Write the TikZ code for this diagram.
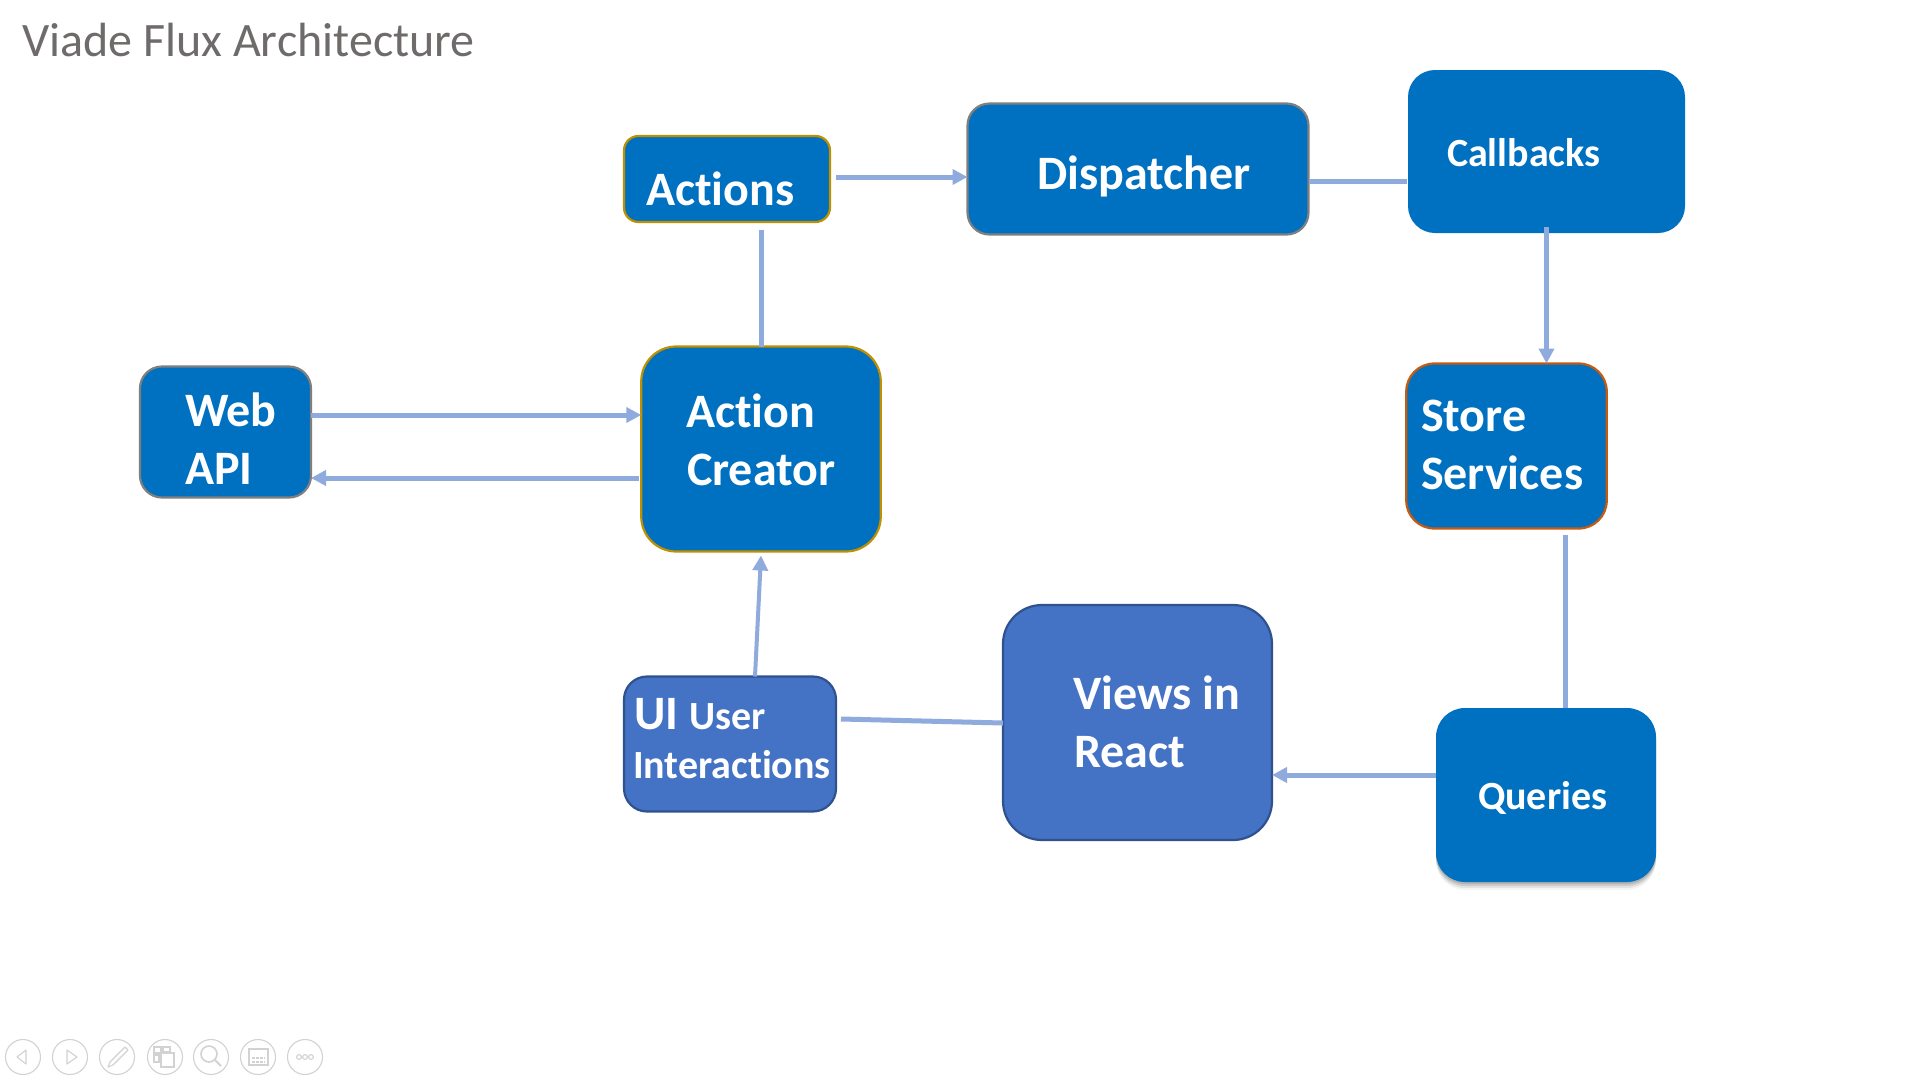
\documentclass[tikz,border=0pt]{standalone}
\usepackage{fontspec}
\setmainfont{Carlito}[Ligatures=CommonOff]
\usetikzlibrary{arrows.meta,shadows,calc}
\definecolor{bluefill}{HTML}{0070C0}
\definecolor{viewfill}{HTML}{4472C4}
\definecolor{viewline}{HTML}{2F528F}
\definecolor{goldline}{HTML}{BF9000}
\definecolor{greyline}{HTML}{7F7F7F}
\definecolor{rustline}{HTML}{C55A11}
\definecolor{connc}{HTML}{8FAADC}
\definecolor{titlec}{HTML}{6F6B6B}
\definecolor{toolc}{HTML}{D2D2D2}
\tikzset{
  bx/.style={shape=rectangle,outer sep=0pt,inner sep=0pt,fill=bluefill,line width=2.2pt},
  lbl/.style={anchor=base west,inner sep=0pt,outer sep=0pt,text=white,font=\bfseries\fontsize{48}{58}\selectfont},
  lblsm/.style={anchor=base west,inner sep=0pt,outer sep=0pt,text=white,font=\bfseries\fontsize{40}{48}\selectfont},
  line/.style={draw=connc,line width=5pt},
  arrow/.style={line,-{Triangle[length=15pt,width=15pt]}},
  tool/.style={draw=toolc,line width=1.1pt},
  toolc/.style={tool,shape=circle,minimum size=35pt,inner sep=0pt,outer sep=0pt},
  softshadow/.style={
    drop shadow={shadow xshift=0pt,shadow yshift=-2pt,opacity=.12,fill=black},
    drop shadow={shadow xshift=0pt,shadow yshift=-4pt,opacity=.10,fill=black},
    drop shadow={shadow xshift=0pt,shadow yshift=-6pt,opacity=.07,fill=black},
    drop shadow={shadow xshift=0pt,shadow yshift=-8pt,opacity=.04,fill=black}},
}
\begin{document}
\begin{tikzpicture}[x=1pt,y=-1pt]
\useasboundingbox (0,0) rectangle (1920,1080);
\fill[white] (0,0) rectangle (1920,1080);
\node[anchor=base west,inner sep=0pt,text=titlec,font=\fontsize{48}{54}\selectfont] (title) at (22,56) {Viade Flux Architecture};
% boxes
\node[bx,draw=goldline,minimum width=206pt,minimum height=86pt,rounded corners=14.5pt] (actions) at (727,179) {};
\node[bx,draw=greyline,minimum width=341pt,minimum height=131pt,rounded corners=22pt] (dispatcher) at (1138,169) {};
\node[bx,minimum width=277pt,minimum height=163pt,rounded corners=27pt] (callbacks) at (1546.5,151.5) {};
\node[bx,draw=rustline,minimum width=200.5pt,minimum height=165pt,rounded corners=28pt] (store) at (1506.5,446) {};
\node[bx,draw=goldline,minimum width=239.5pt,minimum height=205pt,rounded corners=35pt] (creator) at (761,449) {};
\node[bx,draw=greyline,minimum width=171pt,minimum height=131pt,rounded corners=22pt] (web) at (225.5,432) {};
\node[bx,minimum width=220pt,minimum height=174pt,rounded corners=29pt,softshadow] (queries) at (1546,795) {};
\node[bx,fill=viewfill,draw=viewline,minimum width=269pt,minimum height=235pt,rounded corners=39pt] (views) at (1137.5,722.5) {};
\node[bx,fill=viewfill,draw=viewline,minimum width=212pt,minimum height=135pt,rounded corners=23pt] (ui) at (730,744) {};
% labels
\node[lbl] (actionsT) at (646,205) {Actions};
\node[lbl] (dispatcherT) at (1037.5,189) {Dispatcher};
\node[lblsm] (callbacksT) at (1447,166) {Callbacks};
\node[lbl] (storeT) at (1421,431.5) {Store};
\node[lbl] (servicesT) at (1421,489.5) {Services};
\node[lbl] (webT) at (185,426.5) {Web};
\node[lbl] (apiT) at (185,484.5) {API};
\node[lbl] (actionT) at (686,427.5) {Action};
\node[lbl] (creatorT) at (687,485.5) {Creator};
\node[lbl] (viewsT) at (1073,709) {Views in};
\node[lbl] (reactT) at (1074,767.5) {React};
\node[lblsm] (queriesT) at (1478,809) {Queries};
\node[lbl] (uiT) at (634,729) {UI};
\node[lblsm] (userT) at (689,729) {User};
\node[lblsm] (interT) at (633,778) {Interactions};
% connectors
\draw[arrow] ($(actions.east |- 0,177)+(6,0)$) -- (dispatcher.west |- 0,177);
\draw[line] (761,230) coordinate (actbelow) -- (creator.north -| actbelow);
\draw[line] (dispatcher.east |- 0,181) -- ($(callbacks.west |- 0,181)+(-1,0)$);
\draw[arrow] ($(callbacks.south -| store.north)+(40,-6)$) coordinate (cbk) -- (store.north -| cbk);
\draw[line] (1565,535) coordinate (stb) -- (queries.north -| stb);
\draw[arrow] (queries.west |- 0,775) -- (views.east |- 0,775);
\draw[line] ($(ui.east |- 0,719)+(5,0)$) -- (views.west |- 0,723);
\draw[arrow,line width=4pt] (ui.north -| 755,0) -- ($(creator.south -| 761,0)+(0,4)$);
\draw[arrow] (web.east |- 0,415) -- (creator.west |- 0,415);
\draw[arrow] ($(creator.west |- 0,478)+(-2,0)$) -- (web.east |- 0,478);
% toolbar
\node[toolc] (t1) at (23,1057) {};
\node[toolc] (t2) at (70,1057) {};
\node[toolc] (t3) at (117,1057) {};
\node[toolc] (t4) at (165,1057) {};
\node[toolc] (t5) at (211,1057) {};
\node[toolc] (t6) at (258,1057) {};
\node[toolc] (t7) at (305,1057) {};
\draw[tool,line join=round] (17,1057) -- (26,1050) -- (26,1064) -- cycle;
\draw[tool,line join=round] (77,1057) -- (67,1050) -- (67,1064) -- cycle;
\draw[tool,line join=round] (108,1067) -- (110,1062) -- (125,1047) -- (128,1050) -- (113,1065) -- cycle;
\draw[tool] (154,1047) rectangle (161,1053);
\draw[tool] (163,1047) rectangle (170,1052);
\draw[tool] (154,1055) rectangle (159,1062);
\draw[tool,fill=white,line width=1.6pt] (161,1053) rectangle (174,1067);
\draw[tool,line width=1.6pt] (209,1054) circle (8);
\draw[tool,line width=2pt] (215,1060) -- (221,1066);
\draw[tool,line width=1.6pt] (249,1049) rectangle (268,1065);
\draw[tool,dash pattern=on 3pt off 1pt] (252,1058) -- (265,1058);
\draw[tool,dash pattern=on 3pt off 1pt] (252,1062) -- (265,1062);
\draw[tool] (299,1057) circle (2.4);
\draw[tool] (305,1057) circle (2.4);
\draw[tool] (311,1057) circle (2.4);
\end{tikzpicture}
\end{document}
